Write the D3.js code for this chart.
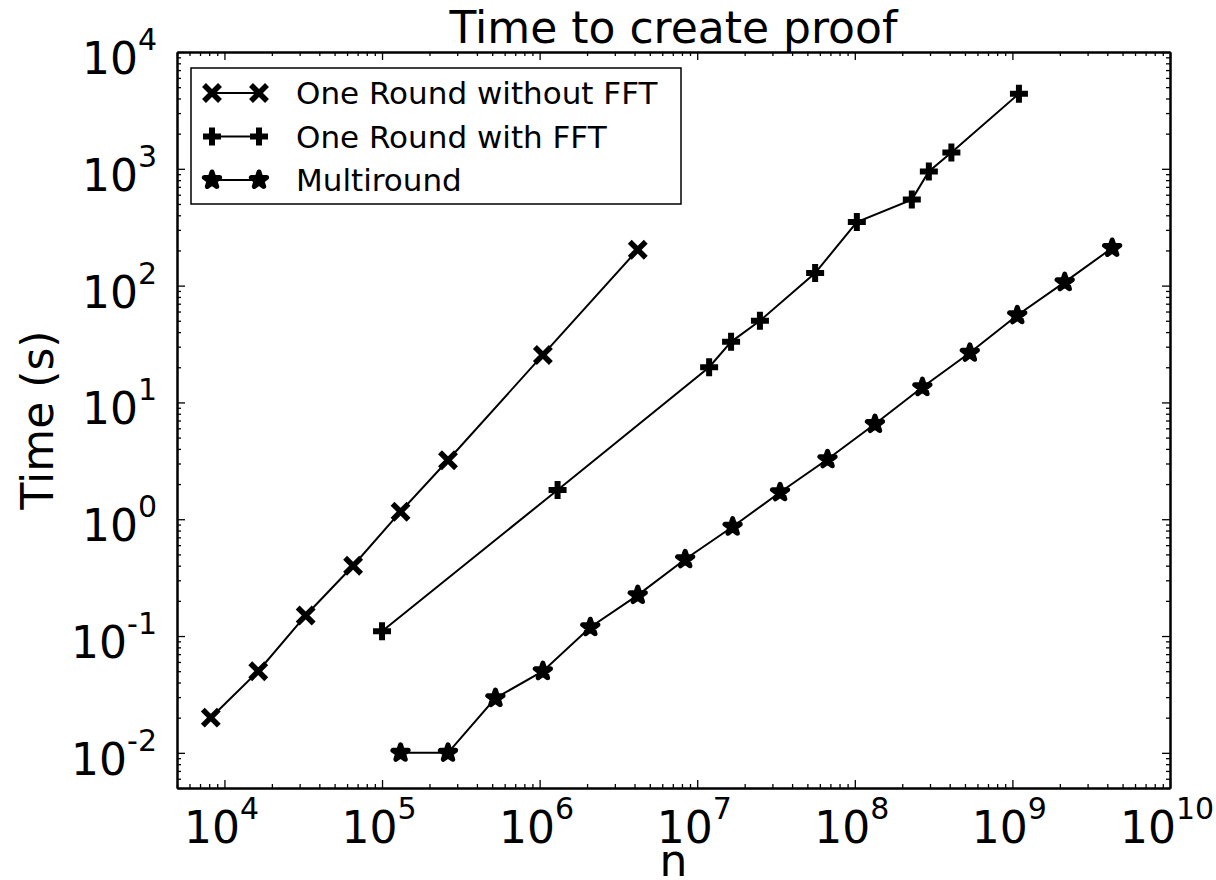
<!DOCTYPE html>
<html>
<head>
<meta charset="utf-8">
<script src="https://cdn.jsdelivr.net/npm/d3@7"></script>
<style>
  html, body { margin: 0; padding: 0; background: #fff; }
  svg { display: block; font-family: "DejaVu Sans", sans-serif; }
</style>
</head>
<body>
<svg id="chart" width="1216" height="880"></svg>
<script>
// data (n, seconds)
var nWithoutFFT = [8192, 16384, 32768, 65536, 131072, 262144, 1048576, 4194304];
var tWithoutFFT = [0.02, 0.05, 0.15, 0.40, 1.16, 3.2, 25.5, 203];

var nWithFFT = [1e5, 1.3e6, 1.19e7, 1.64e7, 2.5e7, 5.6e7, 1.03e8, 2.3e8, 2.95e8, 4.1e8, 1.1e9];
var tWithFFT = [0.11, 1.78, 20, 33, 50, 128, 350, 545, 950, 1380, 4400];

var nMultiround = [131072, 262144, 524288, 1048576, 2097152, 4194304, 8388608, 16777216,
    33554432, 67108864, 134217728, 268435456, 536870912, 1073741824, 2147483648, 4294967296];
var tMultiround = [0.01, 0.01, 0.0294, 0.05, 0.119, 0.224, 0.454, 0.863,
    1.70, 3.26, 6.53, 13.5, 26.6, 55.7, 107, 210];

var seriesNames = ['One Round without FFT', 'One Round with FFT', 'Multiround'];
var xDomain = [5e3, 1e10];
var yDomain = [5e-3, 1e4];

(function () {
var svg = d3.select('#chart');
// note: "top" is taken by window.top, so keep the box in one object
var box = {left: 177, right: 1170, top: 52, bottom: 788};

var x = d3.scaleLog().domain(xDomain).range([box.left, box.right]);
var y = d3.scaleLog().domain(yDomain).range([box.bottom, box.top]);

function isMajor(v) {
    var l = Math.log10(v);
    return Math.abs(l - Math.round(l)) < 1e-9;
}

var xMajor = x.ticks().filter(isMajor);
var xMinor = x.ticks().filter(function(v){ return !isMajor(v); });
var yMajor = y.ticks().filter(isMajor);
var yMinor = y.ticks().filter(function(v){ return !isMajor(v); });

function styleAxis(g) {
    g.select('.domain').attr('stroke', '#000').attr('stroke-width', 2);
    g.selectAll('.tick line').attr('stroke', '#000').attr('stroke-width', 1.3);
    g.selectAll('.tick text').remove();
}

// ticks point inward on all four sides (major 8px, minor 4px)
var axes = [
    [d3.axisBottom(x), 'translate(0,' + box.bottom + ')', xMajor, xMinor],
    [d3.axisTop(x), 'translate(0,' + box.top + ')', xMajor, xMinor],
    [d3.axisLeft(y), 'translate(' + box.left + ',0)', yMajor, yMinor],
    [d3.axisRight(y), 'translate(' + box.right + ',0)', yMajor, yMinor]
];
axes.forEach(function(a) {
    svg.append('g').attr('transform', a[1])
        .call(a[0].tickValues(a[3]).tickSizeInner(-4).tickSizeOuter(0))
        .call(styleAxis);
    svg.append('g').attr('transform', a[1])
        .call(a[0].tickValues(a[2]).tickSizeInner(-8).tickSizeOuter(0))
        .call(styleAxis);
});

// tick labels as 10 with a superscript exponent
function powerLabel(sel) {
    sel.append('tspan').text('10');
    sel.append('tspan')
        .attr('font-size', 30)
        .attr('dy', -24)
        .text(function(d){ return Math.round(Math.log10(d)); });
}

svg.append('g').selectAll('text')
    .data(xMajor)
    .join('text')
    .attr('x', function(d){ return x(d) - 3; })
    .attr('y', 843)
    .attr('text-anchor', 'middle')
    .attr('font-size', 44)
    .call(powerLabel);

svg.append('g').selectAll('text')
    .data(yMajor)
    .join('text')
    .attr('x', 157)
    .attr('y', function(d){ return y(d) + 22; })
    .attr('text-anchor', 'end')
    .attr('font-size', 44)
    .call(powerLabel);

svg.append('text')
    .attr('x', (box.left + box.right) / 2)
    .attr('y', 43)
    .attr('text-anchor', 'middle')
    .attr('font-size', 44)
    .text('Time to create proof');

svg.append('text')
    .attr('x', (box.left + box.right) / 2)
    .attr('y', 876)
    .attr('text-anchor', 'middle')
    .attr('font-size', 44)
    .text('n');

svg.append('text')
    .attr('transform', 'translate(53,' + ((box.top + box.bottom) / 2) + ') rotate(-90)')
    .attr('text-anchor', 'middle')
    .attr('font-size', 44)
    .text('Time (s)');

// markers
function drawX(g) {
    g.append('path').attr('d', 'M-8,-8L8,8M-8,8L8,-8')
        .attr('stroke', '#000').attr('stroke-width', 5.5).attr('fill', 'none');
}
function drawPlus(g) {
    g.append('path').attr('d', 'M-9,0L9,0M0,-9L0,9')
        .attr('stroke', '#000').attr('stroke-width', 6).attr('fill', 'none');
}
function drawStar(g) {
    // thick rounded edge like the matplotlib '*' with a wide marker edge
    g.append('path').attr('d', d3.symbol(d3.symbolStar, 72)())
        .attr('fill', '#000').attr('stroke', '#000')
        .attr('stroke-width', 5).attr('stroke-linejoin', 'round');
}

var series = [
    {name: seriesNames[0], n: nWithoutFFT, t: tWithoutFFT, marker: drawX},
    {name: seriesNames[1], n: nWithFFT, t: tWithFFT, marker: drawPlus},
    {name: seriesNames[2], n: nMultiround, t: tMultiround, marker: drawStar}
];

var line = d3.line()
    .x(function(d){ return x(d[0]); })
    .y(function(d){ return y(d[1]); });

series.forEach(function(s) {
    var pts = d3.zip(s.n, s.t);
    svg.append('path')
        .datum(pts)
        .attr('d', line)
        .attr('fill', 'none')
        .attr('stroke', '#000')
        .attr('stroke-width', 2);
    svg.append('g').selectAll('g')
        .data(pts)
        .join('g')
        .attr('transform', function(d){ return 'translate(' + x(d[0]) + ',' + y(d[1]) + ')'; })
        .each(function(){ s.marker(d3.select(this)); });
});

// legend
var legend = svg.append('g');
legend.append('rect')
    .attr('x', 191).attr('y', 68)
    .attr('width', 490).attr('height', 136)
    .attr('fill', '#fff').attr('stroke', '#000').attr('stroke-width', 1.5);

series.forEach(function(s, i) {
    var ly = 93 + i * 43.5;
    legend.append('line')
        .attr('x1', 212).attr('x2', 259)
        .attr('y1', ly).attr('y2', ly)
        .attr('stroke', '#000').attr('stroke-width', 2);
    [212, 259].forEach(function(lx) {
        s.marker(legend.append('g').attr('transform', 'translate(' + lx + ',' + ly + ')'));
    });
    legend.append('text')
        .attr('x', 296)
        .attr('y', ly + 11)
        .attr('font-size', 31)
        .text(s.name);
});
})();
</script>
</body>
</html>
